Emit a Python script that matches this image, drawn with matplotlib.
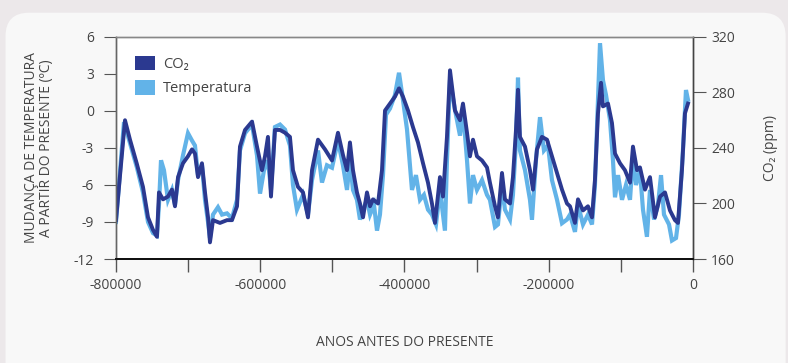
import numpy as np
import matplotlib
matplotlib.use("Agg")
import matplotlib.pyplot as plt
from matplotlib.patches import FancyBboxPatch, Patch

# years before present (thousands) and CO2 (ppm)
co2_kyr = [-800, -787.5, -780.6, -771.3, -762.6, -755.6, -748.7, -743.2, -740.4, -734.8,
           -727.9, -722.4, -718.2, -714.0, -707.1, -700.2, -694.6, -690.5, -686.3, -680.8,
           -676.6, -672.4, -669.7, -665.5, -655.8, -646.1, -639.2, -632.2, -628.1, -621.1,
           -611.4, -604.5, -597.6, -593.4, -589.3, -585.1, -579.6, -572.6, -565.7, -558.8,
           -554.6, -547.7, -540.7, -533.8, -528.2, -519.9, -510.2, -500.5, -492.2, -485.3,
           -479.7, -475.6, -471.4, -465.9, -461.7, -457.5, -452.0, -447.8, -443.7, -436.7,
           -431.2, -427.0, -420.1, -413.2, -407.6, -402.1, -395.1, -388.2, -381.3, -374.3,
           -367.4, -361.9, -357.7, -350.8, -346.6, -341.1, -336.9, -330.0, -323.0, -318.9,
           -313.3, -309.2, -305.0, -299.5, -292.5, -285.6, -281.5, -274.5, -270.4, -264.8,
           -260.7, -253.7, -249.6, -245.4, -242.6, -239.9, -232.9, -226.0, -221.8, -216.3,
           -209.4, -202.4, -195.5, -188.5, -181.6, -174.7, -170.5, -163.6, -159.4, -152.5,
           -145.6, -140.0, -135.9, -131.7, -127.5, -124.8, -117.8, -112.3, -108.1, -101.2,
           -94.3, -87.3, -83.2, -77.6, -73.5, -66.5, -59.6, -52.7, -45.7, -38.8,
           -31.9, -25.0, -20.8, -15.3, -11.1, -6.9]
co2_ppm = [188, 260, 246, 229, 212, 190, 181, 176, 208, 203,
           205, 210, 198, 219, 229, 234, 239, 236, 219, 229,
           208, 190, 172, 188, 186, 188, 188, 198, 241, 253,
           259, 241, 224, 234, 248, 205, 253, 253, 251, 248,
           224, 212, 208, 190, 224, 246, 239, 231, 251, 235,
           224, 244, 224, 208, 200, 190, 208, 198, 203, 200,
           224, 267, 272, 277, 283, 277, 267, 255, 244, 229,
           215, 200, 186, 219, 205, 248, 296, 267, 260, 272,
           251, 234, 246, 234, 231, 226, 215, 198, 190, 222,
           203, 200, 219, 253, 282, 248, 241, 224, 210, 239,
           248, 246, 234, 222, 210, 200, 198, 186, 203, 195,
           198, 190, 217, 265, 287, 270, 272, 258, 236, 229,
           224, 215, 241, 224, 226, 210, 219, 190, 205, 208,
           195, 188, 186, 224, 265, 272]

# temperature change relative to present (deg C)
temp_kyr = [-800, -788.9, -780.6, -770.9, -762.6, -755.6, -748.7, -743.2, -740.4, -737.6,
            -733.5, -727.9, -722.4, -718.2, -714.0, -707.1, -700.2, -694.6, -690.5, -686.3,
            -680.8, -676.6, -672.4, -669.7, -665.5, -658.6, -653.0, -646.1, -639.2, -632.2,
            -628.1, -621.1, -611.4, -604.5, -600.3, -594.8, -589.3, -585.1, -579.6, -572.6,
            -565.7, -558.8, -554.6, -549.1, -540.7, -533.8, -528.2, -519.9, -514.4, -507.5,
            -500.5, -492.2, -485.3, -479.7, -475.6, -471.4, -465.9, -461.7, -457.5, -452.0,
            -447.8, -442.3, -438.1, -434.0, -429.8, -425.6, -420.1, -413.2, -407.6, -402.1,
            -396.5, -392.4, -389.6, -384.1, -378.5, -373.0, -367.4, -361.9, -356.3, -350.8,
            -343.9, -341.1, -336.9, -330.0, -323.0, -318.9, -313.3, -309.2, -305.0, -299.5,
            -292.5, -285.6, -281.5, -274.5, -270.4, -264.8, -260.7, -253.7, -249.6, -245.4,
            -242.6, -239.9, -232.9, -226.0, -223.2, -217.7, -212.1, -206.6, -201.0, -195.5,
            -188.5, -181.6, -174.7, -170.5, -163.6, -159.4, -152.5, -145.6, -140.0, -135.9,
            -131.7, -128.9, -124.8, -120.6, -115.1, -110.9, -108.1, -103.9, -98.4, -92.9,
            -87.3, -83.2, -79.0, -73.5, -69.3, -63.8, -59.6, -54.0, -48.5, -44.3,
            -40.2, -33.2, -29.1, -23.5, -19.4, -13.9, -9.7, -6.9]
temp_c = [-9.0, -0.9, -2.6, -4.6, -6.6, -9.0, -9.9, -10.1, -7.6, -4.0,
          -4.8, -7.2, -6.4, -7.6, -5.6, -3.6, -1.8, -2.4, -2.8, -5.2,
          -4.4, -7.2, -9.0, -10.3, -8.4, -7.8, -8.4, -8.3, -8.7, -7.2,
          -3.2, -1.8, -1.1, -3.6, -6.7, -4.8, -4.0, -6.4, -1.3, -1.1,
          -1.5, -2.8, -6.0, -8.0, -6.8, -8.4, -5.6, -3.2, -5.8, -4.4,
          -4.6, -2.4, -4.4, -6.4, -4.0, -6.4, -7.2, -8.8, -8.0, -7.2,
          -8.4, -7.6, -9.7, -8.4, -5.2, -0.3, 0.2, 1.3, 3.1, 0.9,
          -1.5, -4.4, -6.4, -5.2, -7.2, -6.8, -8.0, -8.4, -9.2, -6.4,
          -9.7, -4.0, 2.5, 0.1, -2.0, 0.1, -4.0, -7.5, -5.2, -6.4,
          -5.6, -6.8, -7.2, -9.4, -9.2, -6.0, -8.0, -8.8, -6.8, -2.4,
          2.7, -3.2, -4.8, -7.2, -8.8, -4.0, -0.5, -3.2, -2.8, -5.6,
          -7.2, -9.1, -8.8, -8.4, -9.8, -7.6, -9.2, -8.4, -9.2, -6.0,
          0.9, 5.5, 2.5, 1.3, -0.7, -4.0, -7.0, -5.2, -7.2, -6.0,
          -7.2, -3.6, -6.0, -4.8, -8.0, -10.2, -6.4, -8.8, -7.6, -5.2,
          -8.4, -9.2, -10.5, -10.3, -8.4, -3.2, 1.7, 0.9]

x_ticks = [-800000, -600000, -400000, -200000, 0]
x_labels = ["-800000", "-600000", "-400000", "-200000", "0"]
x_minor = [-700000, -500000, -300000, -100000]
temp_ticks = [6, 3, 0, -3, -6, -9, -12]
co2_ticks = [320, 280, 240, 200, 160]

DARK = "#2b3990"
LIGHT = "#62b3e8"
GREY = "#444444"

plt.rcParams["font.family"] = ["Open Sans", "DejaVu Sans"]
plt.rcParams["axes.unicode_minus"] = False

fig = plt.figure(figsize=(7.88, 3.63), dpi=100, facecolor="#ece8ea")
card = FancyBboxPatch((0.007, -0.2), 0.99, 1.165, boxstyle="round,pad=0,rounding_size=0.03",
                      transform=fig.transFigure, facecolor="#f8f8f8", edgecolor="none",
                      mutation_aspect=788 / 363, zorder=-10)
fig.patches.append(card)

ax = fig.add_axes([0.1472, 0.2865, 0.7322, 0.6116])
ax.set_facecolor("white")
ax2 = ax.twinx()

# temperature behind, CO2 (twin axes, drawn later) in front
ax.plot(np.array(temp_kyr) * 1000, temp_c, color=LIGHT, lw=3.0, solid_joinstyle="miter")
ax2.plot(np.array(co2_kyr) * 1000, co2_ppm, color=DARK, lw=2.8)

ax.set_xlim(-800000, 0)
ax.set_ylim(-12, 6)
ax2.set_ylim(160, 320)

ax.set_xticks(x_ticks)
ax.set_xticklabels(x_labels)
ax.set_xticks(x_minor, minor=True)
ax.set_yticks(temp_ticks)
ax2.set_yticks(co2_ticks)

ax.tick_params(axis="x", which="both", direction="out", length=9, width=1, color="#555555",
               labelsize=10, labelcolor=GREY, pad=5)
ax.tick_params(axis="y", direction="out", length=9, width=0.8, color="#555555",
               labelsize=10, labelcolor=GREY, pad=7)
ax2.tick_params(axis="y", direction="out", length=9, width=0.8, color="#555555",
                labelsize=10, labelcolor=GREY, pad=4)

for a in (ax, ax2):
    a.spines["top"].set_color("#888888")
    a.spines["top"].set_linewidth(1.0)
    a.spines["left"].set_color("#666666")
    a.spines["left"].set_linewidth(1.0)
    a.spines["right"].set_color("#444444")
    a.spines["right"].set_linewidth(1.0)
    a.spines["bottom"].set_color("#111111")
    a.spines["bottom"].set_linewidth(1.4)

ax.set_ylabel("MUDANÇA DE TEMPERATURA\nA PARTIR DO PRESENTE (ºC)", fontsize=10,
              color=GREY, labelpad=14, linespacing=1.05)
ax2.set_ylabel("CO₂ (ppm)", fontsize=10, color=GREY, labelpad=20)
ax.set_xlabel("ANOS ANTES DO PRESENTE", fontsize=10, color=GREY, labelpad=30)

handles = [Patch(facecolor=DARK, edgecolor="none"), Patch(facecolor=LIGHT, edgecolor="none")]
ax2.legend(handles, ["CO₂", "Temperatura"], loc="upper left", frameon=False, fontsize=10.5,
           handlelength=1.35, handleheight=1.15, handletextpad=0.55, labelspacing=0.55,
           borderaxespad=0.9, labelcolor=GREY)

fig.savefig("out.png", dpi=100, facecolor=fig.get_facecolor())
